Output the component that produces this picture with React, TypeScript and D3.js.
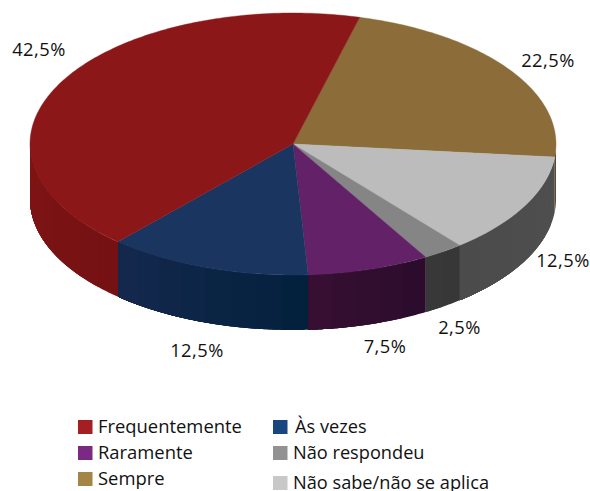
import React from "react";
import * as d3 from "d3";

const categories = ["Sempre", "Não sabe/não se aplica", "Não respondeu", "Raramente", "Às vezes", "Frequentemente"];
const values = [22.5, 12.5, 2.5, 7.5, 12.5, 42.5];
const valueLabels = ["22,5%", "12,5%", "2,5%", "7,5%", "12,5%", "42,5%"];
const topColors = ["#8c6d39", "#bcbcbc", "#858585", "#632267", "#1b3561", "#8b1719"];
const sideStart = ["#5c4823", "#4f4f4f", "#373737", "#2a0c2c", "#02203c", "#741112"];
const sideEnd = ["#5c4823", "#4b4b4b", "#383838", "#380f33", "#15294f", "#801415"];
const legendColors: Record<string, string> = {
  Frequentemente: "#a51e22", "Às vezes": "#17477e", Raramente: "#7b2a83",
  "Não respondeu": "#929292", Sempre: "#a58545", "Não sabe/não se aplica": "#c8c8c8",
};
const legendCol1 = ["Frequentemente", "Raramente", "Sempre"];
const legendCol2 = ["Às vezes", "Não respondeu", "Não sabe/não se aplica"];

const FONT = "'Open Sans', 'Noto Sans', sans-serif";
const CX = 293, CY = 144, RX = 263, RY = 131, DEPTH = 55;
const START = (14.7 * Math.PI) / 180;

const sx = d3.scaleLinear().domain([-1, 1]).range([CX - RX, CX + RX]);
const sy = d3.scaleLinear().domain([-1, 1]).range([CY - RY, CY + RY]);
const px = (a: number) => sx(Math.sin(a));
const py = (a: number) => sy(-Math.cos(a));

const pie = d3.pie<number>().sort(null).startAngle(START).endAngle(START + 2 * Math.PI);
const arcs = pie(values);

function sampleAngles(a0: number, a1: number, stepDeg = 1) {
  const n = Math.max(1, Math.ceil(((a1 - a0) * 180) / Math.PI / stepDeg));
  return d3.range(n + 1).map((i) => a0 + ((a1 - a0) * i) / n);
}

const line = d3.line<[number, number]>();

function topPath(a0: number, a1: number) {
  const pts: [number, number][] = [[CX, CY], ...sampleAngles(a0, a1).map((a) => [px(a), py(a)] as [number, number])];
  return line(pts) + "Z";
}

function wallPath(a0: number, a1: number) {
  const angs = sampleAngles(a0, a1, 0.5);
  const pts: [number, number][] = [
    ...angs.map((a) => [px(a), py(a)] as [number, number]),
    ...angs.slice().reverse().map((a) => [px(a), py(a) + DEPTH] as [number, number]),
  ];
  return line(pts) + "Z";
}

const HALF = Math.PI / 2;
const strips: { d: string; fill: string; key: string }[] = [];
arcs.forEach((arc, i) => {
  const ranges: [number, number][] = [];
  for (const off of [0, 2 * Math.PI]) {
    const lo = Math.max(arc.startAngle, HALF + off);
    const hi = Math.min(arc.endAngle, 3 * HALF + off);
    if (hi > lo) ranges.push([lo, hi]);
  }
  ranges.forEach(([lo, hi], r) => {
    const color = d3.scaleLinear<string>().domain([lo, hi]).range([sideStart[i], sideEnd[i]]);
    const n = Math.max(1, Math.round(((hi - lo) * 180) / Math.PI / 6));
    // Each band runs to the end of its slice and the next band paints over it, so no seams show.
    d3.range(n).forEach((k) => {
      const a0 = lo + ((hi - lo) * k) / n;
      const mid = a0 + (hi - lo) / n / 2;
      strips.push({ d: wallPath(a0, hi), fill: color(mid), key: `${i}-${r}-${k}` });
    });
  });
});

const labelPos = [
  { x: 548, y: 67 }, { x: 563, y: 267 }, { x: 459.5, y: 334 },
  { x: 385, y: 353 }, { x: 197, y: 357 }, { x: 39, y: 56 },
];
const rowsCol1 = [420, 446, 472];
const rowsCol2 = [420, 446, 476];

export default function App() {
  return (
    <svg width={590} height={491} style={{ position: "absolute", left: 0, top: 0 }} fontFamily={FONT}>
      {strips.map((s) => (
        <path key={s.key} d={s.d} fill={s.fill} />
      ))}
      {arcs.map((arc, i) => (
        <path key={categories[i]} d={topPath(arc.startAngle, arc.endAngle)} fill={topColors[i]} stroke={topColors[i]} strokeWidth={0.4} />
      ))}
      {valueLabels.map((t, i) => (
        <text key={i} x={labelPos[i].x} y={labelPos[i].y} textAnchor="middle" fontSize={18.3} letterSpacing={0.5} fill="#111">{t}</text>
      ))}
      {legendCol1.map((c, i) => (
        <g key={c}>
          <rect x={78} y={rowsCol1[i]} width={14.5} height={14} fill={legendColors[c]} />
          <text x={98} y={rowsCol1[i] + 13} fontSize={18.4} fill="#111">{c}</text>
        </g>
      ))}
      {legendCol2.map((c, i) => (
        <g key={c}>
          <rect x={273} y={rowsCol2[i]} width={14.5} height={14} fill={legendColors[c]} />
          <text x={i === 0 ? 295 : 293} y={rowsCol2[i] + 13} fontSize={18.2} fill="#111">{c}</text>
        </g>
      ))}
    </svg>
  );
}
